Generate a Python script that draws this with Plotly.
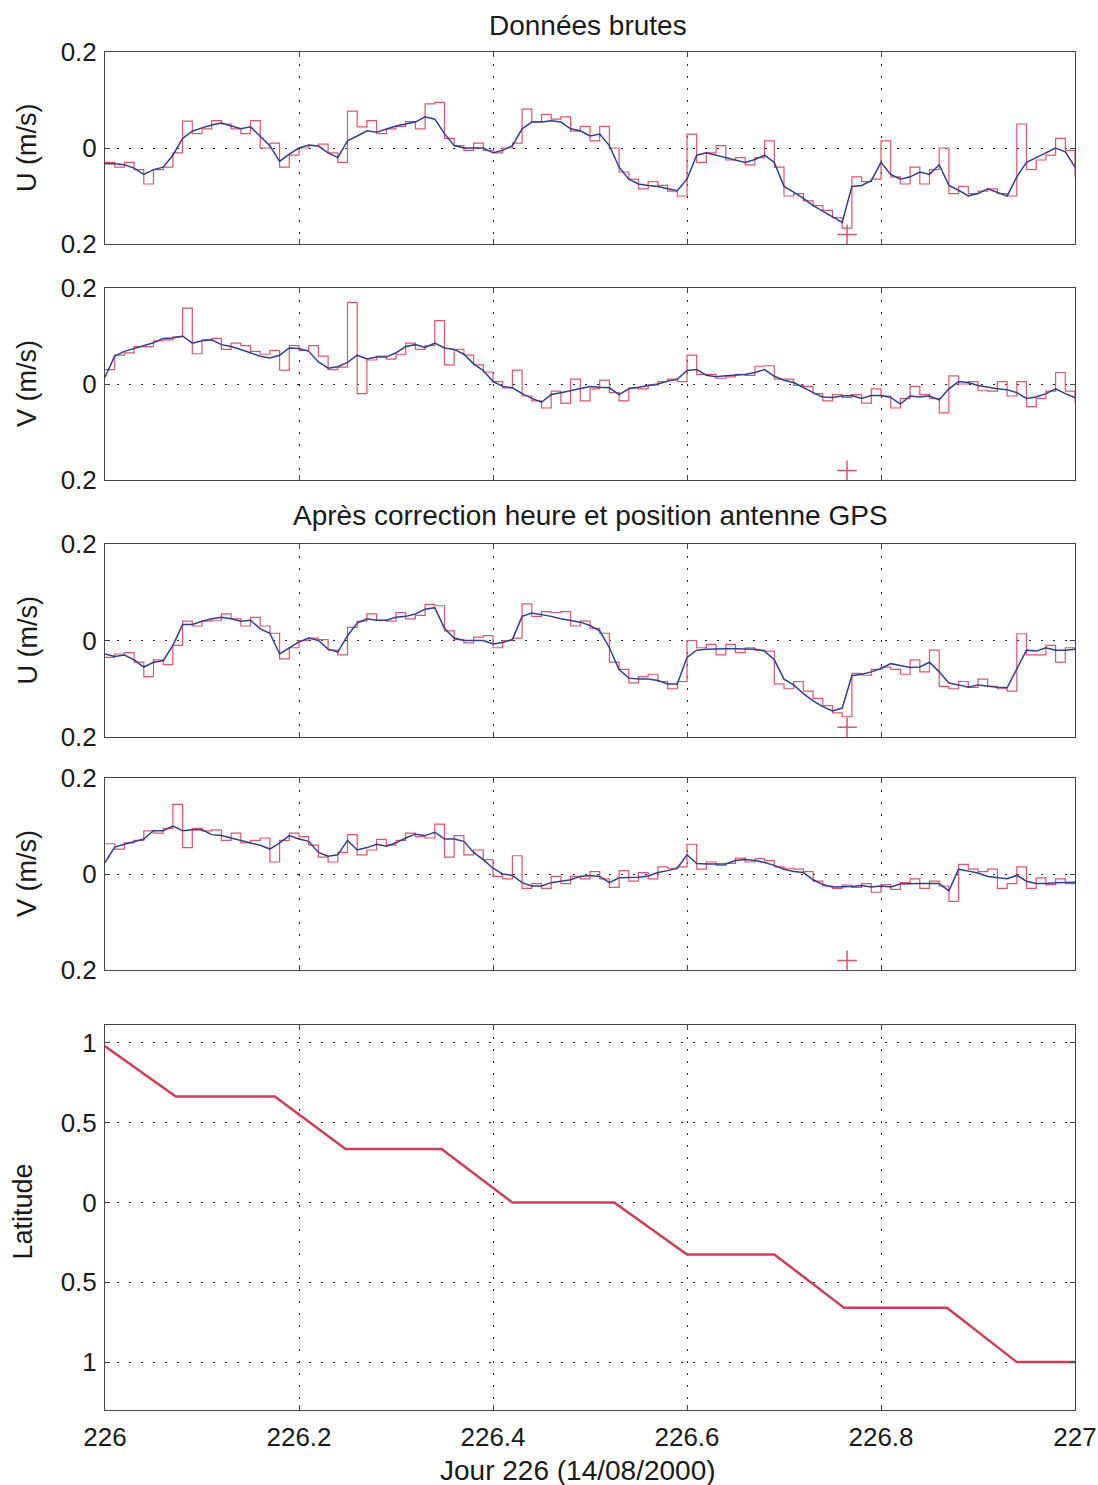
import plotly.graph_objects as go

W, H = 1098, 1485

# ---------------- data ----------------
times = [round(226 + i * 0.01, 2) for i in range(101)]

u_raw_red = [-0.030, -0.040, -0.030, -0.045, -0.075, -0.045, -0.040, -0.010, 0.056, 0.030,
             0.040, 0.057, 0.050, 0.040, 0.030, 0.057, 0.000, 0.010, -0.040, -0.015,
             0.000, 0.005, 0.008, -0.010, -0.030, 0.077, 0.044, 0.057, 0.030, 0.040,
             0.045, 0.055, 0.040, 0.092, 0.095, 0.020, 0.005, -0.005, 0.010, -0.005,
             -0.010, 0.000, 0.010, 0.081, 0.055, 0.070, 0.060, 0.065, 0.035, 0.045,
             0.015, 0.045, 0.000, -0.050, -0.065, -0.085, -0.070, -0.078, -0.090, -0.100,
             0.029, -0.030, -0.010, 0.005, -0.025, -0.020, -0.035, -0.020, 0.015, -0.040,
             -0.100, -0.095, -0.110, -0.120, -0.130, -0.145, -0.167, -0.060, -0.070, -0.065,
             0.015, -0.060, -0.075, -0.040, -0.075, -0.045, 0.000, -0.095, -0.080, -0.095,
             -0.090, -0.085, -0.095, -0.100, 0.050, -0.045, -0.025, -0.015, 0.020, -0.005,
             -0.060]
u_raw_blue = [-0.033, -0.033, -0.035, -0.042, -0.055, -0.045, -0.040, -0.015, 0.020, 0.035,
              0.042, 0.048, 0.052, 0.046, 0.040, 0.044, 0.025, 0.005, -0.028, -0.013,
              0.000, 0.006, 0.004, -0.010, -0.020, 0.015, 0.025, 0.036, 0.033, 0.040,
              0.046, 0.050, 0.054, 0.065, 0.060, 0.030, 0.005, 0.000, 0.000, 0.000,
              -0.010, -0.005, 0.005, 0.040, 0.054, 0.054, 0.057, 0.054, 0.040, 0.036,
              0.025, 0.029, 0.005, -0.040, -0.065, -0.075, -0.078, -0.080, -0.085, -0.089,
              -0.065, -0.015, -0.010, -0.015, -0.020, -0.025, -0.030, -0.024, -0.015, -0.030,
              -0.080, -0.092, -0.105, -0.120, -0.132, -0.144, -0.155, -0.080, -0.078, -0.068,
              -0.030, -0.055, -0.065, -0.060, -0.050, -0.055, -0.035, -0.078, -0.088, -0.100,
              -0.095, -0.085, -0.092, -0.100, -0.060, -0.030, -0.020, -0.010, 0.000, -0.008,
              -0.040]

v_raw_red = [0.030, 0.060, 0.065, 0.078, 0.078, 0.090, 0.092, 0.098, 0.158, 0.063,
             0.092, 0.095, 0.072, 0.085, 0.080, 0.068, 0.062, 0.070, 0.029, 0.080,
             0.070, 0.080, 0.058, 0.030, 0.035, 0.170, -0.020, 0.050, 0.058, 0.052,
             0.062, 0.085, 0.072, 0.080, 0.132, 0.040, 0.072, 0.060, 0.040, 0.025,
             0.005, -0.008, 0.029, -0.025, -0.035, -0.050, -0.015, -0.040, 0.010, -0.035,
             -0.010, 0.008, -0.018, -0.035, -0.008, -0.010, -0.002, 0.005, 0.010, 0.005,
             0.060, 0.020, 0.020, 0.012, 0.015, 0.020, 0.018, 0.037, 0.038, 0.010,
             0.010, -0.003, -0.005, -0.020, -0.035, -0.022, -0.028, -0.022, -0.040, -0.010,
             -0.025, -0.050, -0.030, -0.005, -0.022, -0.030, -0.060, 0.017, 0.000, 0.005,
             -0.013, -0.015, 0.005, -0.025, 0.005, -0.047, -0.030, -0.015, 0.024, -0.015,
             -0.040]
v_raw_blue = [0.014, 0.058, 0.068, 0.074, 0.080, 0.086, 0.095, 0.096, 0.100, 0.085,
              0.090, 0.092, 0.082, 0.078, 0.072, 0.065, 0.058, 0.054, 0.060, 0.075,
              0.074, 0.068, 0.046, 0.033, 0.036, 0.045, 0.060, 0.052, 0.056, 0.056,
              0.065, 0.078, 0.082, 0.076, 0.085, 0.075, 0.072, 0.062, 0.042, 0.028,
              0.005, -0.005, -0.008, -0.020, -0.030, -0.038, -0.022, -0.018, -0.014, -0.010,
              -0.005, -0.007, -0.008, -0.022, -0.010, -0.007, -0.004, 0.000, 0.006, 0.010,
              0.028, 0.030, 0.018, 0.015, 0.017, 0.018, 0.020, 0.024, 0.030, 0.016,
              0.008, 0.003, -0.008, -0.018, -0.027, -0.028, -0.025, -0.024, -0.030, -0.024,
              -0.024, -0.028, -0.042, -0.025, -0.027, -0.025, -0.033, -0.010, 0.005, 0.003,
              -0.003, -0.007, -0.010, -0.012, -0.018, -0.030, -0.027, -0.020, -0.010, -0.020,
              -0.028]

u_cor_red = [-0.035, -0.028, -0.025, -0.045, -0.075, -0.040, -0.050, -0.010, 0.040, 0.030,
             0.040, 0.042, 0.055, 0.045, 0.030, 0.048, 0.030, 0.015, -0.038, -0.015,
             0.000, 0.005, 0.002, -0.020, -0.030, 0.027, 0.040, 0.055, 0.042, 0.040,
             0.058, 0.045, 0.052, 0.075, 0.072, 0.020, 0.002, -0.005, 0.007, 0.010,
             -0.015, 0.000, 0.005, 0.076, 0.050, 0.060, 0.058, 0.060, 0.030, 0.040,
             0.025, 0.015, -0.045, -0.060, -0.088, -0.075, -0.070, -0.085, -0.100, -0.085,
             0.000, -0.015, -0.008, -0.030, -0.008, -0.025, -0.015, -0.020, -0.022, -0.090,
             -0.100, -0.085, -0.105, -0.120, -0.135, -0.150, -0.158, -0.068, -0.072, -0.060,
             -0.055, -0.060, -0.070, -0.040, -0.065, -0.020, -0.095, -0.100, -0.085, -0.097,
             -0.080, -0.095, -0.100, -0.105, 0.014, -0.030, -0.030, -0.010, -0.045, -0.015,
             -0.020]
u_cor_blue = [-0.028, -0.033, -0.030, -0.040, -0.055, -0.045, -0.042, -0.010, 0.033, 0.033,
              0.040, 0.045, 0.048, 0.045, 0.040, 0.042, 0.024, 0.015, -0.028, -0.015,
              -0.003, 0.005, 0.000, -0.018, -0.024, 0.010, 0.036, 0.045, 0.042, 0.042,
              0.048, 0.050, 0.055, 0.065, 0.068, 0.025, 0.005, 0.000, 0.000, 0.000,
              -0.007, -0.004, 0.002, 0.050, 0.057, 0.054, 0.050, 0.045, 0.042, 0.038,
              0.031, 0.020, -0.015, -0.060, -0.078, -0.080, -0.080, -0.083, -0.090, -0.090,
              -0.035, -0.020, -0.018, -0.017, -0.017, -0.017, -0.017, -0.018, -0.022, -0.040,
              -0.080, -0.092, -0.110, -0.125, -0.137, -0.146, -0.140, -0.073, -0.070, -0.065,
              -0.058, -0.048, -0.052, -0.056, -0.055, -0.045, -0.065, -0.088, -0.092, -0.097,
              -0.092, -0.095, -0.097, -0.098, -0.060, -0.020, -0.022, -0.015, -0.020, -0.020,
              -0.018]

v_cor_red = [0.063, 0.052, 0.065, 0.070, 0.090, 0.085, 0.095, 0.145, 0.055, 0.095,
             0.090, 0.092, 0.070, 0.085, 0.065, 0.070, 0.075, 0.025, 0.070, 0.085,
             0.078, 0.060, 0.035, 0.025, 0.045, 0.082, 0.040, 0.050, 0.072, 0.060,
             0.070, 0.085, 0.078, 0.075, 0.104, 0.035, 0.080, 0.040, 0.050, 0.030,
             -0.005, -0.010, 0.038, -0.030, -0.020, -0.030, -0.005, -0.020, -0.005, -0.010,
             0.005, -0.010, -0.028, 0.007, -0.015, 0.003, -0.010, 0.015, 0.012, 0.015,
             0.062, 0.010, 0.025, 0.018, 0.022, 0.033, 0.025, 0.032, 0.028, 0.015,
             0.012, 0.010, 0.005, -0.015, -0.025, -0.030, -0.023, -0.028, -0.020, -0.038,
             -0.022, -0.032, -0.018, -0.010, -0.030, -0.015, -0.025, -0.057, 0.020, 0.010,
             0.005, 0.010, -0.030, -0.020, 0.015, -0.030, -0.008, -0.022, -0.010, -0.020,
             -0.015]
v_cor_blue = [0.024, 0.056, 0.062, 0.067, 0.073, 0.090, 0.090, 0.100, 0.090, 0.092,
              0.092, 0.082, 0.080, 0.075, 0.070, 0.064, 0.060, 0.052, 0.065, 0.080,
              0.073, 0.068, 0.045, 0.037, 0.040, 0.070, 0.050, 0.055, 0.062, 0.058,
              0.065, 0.075, 0.083, 0.080, 0.087, 0.073, 0.073, 0.068, 0.045, 0.030,
              0.012, 0.000, -0.003, -0.018, -0.025, -0.025, -0.018, -0.015, -0.012, -0.005,
              -0.003, -0.005, -0.018, -0.008, -0.007, -0.007, -0.004, 0.003, 0.007, 0.012,
              0.040, 0.022, 0.021, 0.021, 0.021, 0.028, 0.030, 0.028, 0.024, 0.018,
              0.010, 0.005, 0.003, -0.012, -0.022, -0.027, -0.027, -0.026, -0.024, -0.027,
              -0.025, -0.027, -0.021, -0.020, -0.020, -0.020, -0.020, -0.035, 0.010, 0.006,
              0.002, -0.005, -0.008, -0.010, -0.003, -0.015, -0.020, -0.020, -0.018, -0.017,
              -0.017]

flag_t = [226.765]
flag_v = [-0.18]

lat_t = [226.0, 226.073, 226.175, 226.248, 226.347, 226.42, 226.525, 226.6,
         226.69, 226.762, 226.868, 226.94, 227.0]
lat_v = [0.98, 0.665, 0.665, 0.335, 0.335, 0.0, 0.0, -0.325,
         -0.325, -0.66, -0.66, -1.0, -1.0]

uv_tickvals = [-0.2, 0, 0.2]
uv_ticktext = ["0.2", "0", "0.2"]
lat_tickvals = [-1, -0.5, 0, 0.5, 1]
lat_ticktext = ["1", "0.5", "0", "0.5", "1"]
day_tickvals = [226, 226.2, 226.4, 226.6, 226.8, 227]
day_ticktext = ["226", "226.2", "226.4", "226.6", "226.8", "227"]

panel_labels = ["U (m/s)", "V (m/s)", "U (m/s)", "V (m/s)", "Latitude"]
series = [(u_raw_red, u_raw_blue), (v_raw_red, v_raw_blue),
          (u_cor_red, u_cor_blue), (v_cor_red, v_cor_blue)]

# ---------------- style ----------------
RED = "#e2536f"
BLUE = "#2f3f95"
LATRED = "#d33a5a"
FONT = "Liberation Sans, Arial, sans-serif"
TXT = "#1a1a1a"
boxes = [(52, 244), (288, 480), (544, 737), (778, 970), (1025, 1410)]
LEFT, RIGHT = 105, 1075


def ydom(top, bottom):
    return [1 - bottom / H, 1 - top / H]


fig = go.Figure()

for k, (red, blue) in enumerate(series, start=1):
    xa, ya = ("x" if k == 1 else f"x{k}"), ("y" if k == 1 else f"y{k}")
    fig.add_trace(go.Scatter(x=times, y=red, mode="lines", line=dict(color=RED, width=1.2, shape="hv"),
                             xaxis=xa, yaxis=ya, showlegend=False, hoverinfo="skip"))
    fig.add_trace(go.Scatter(x=times, y=blue, mode="lines", line=dict(color=BLUE, width=1.5),
                             xaxis=xa, yaxis=ya, showlegend=False, hoverinfo="skip"))
    fig.add_trace(go.Scatter(x=flag_t, y=flag_v, mode="markers",
                             marker=dict(symbol="cross-thin", size=14, line=dict(color=RED, width=1.5)),
                             xaxis=xa, yaxis=ya, showlegend=False, hoverinfo="skip"))

fig.add_trace(go.Scatter(x=lat_t, y=lat_v, mode="lines", line=dict(color=LATRED, width=2.5),
                         xaxis="x5", yaxis="y5", showlegend=False, hoverinfo="skip"))

common = dict(showline=True, linecolor="#444444", linewidth=1, mirror="ticks",
              ticks="inside", ticklen=5, tickcolor="#444444", automargin=False,
              showgrid=True, gridcolor="#222222", griddash="2px,10px", gridwidth=1.3,
              zeroline=False, tickfont=dict(family=FONT, size=26, color=TXT))

layout = dict(width=W, height=H, margin=dict(l=0, r=0, t=0, b=0, autoexpand=False),
              template="none",
              paper_bgcolor="white", plot_bgcolor="white", font=dict(family=FONT, color=TXT))

for k in range(1, 6):
    top, bottom = boxes[k - 1]
    sx = "" if k == 1 else str(k)
    xa = dict(common, domain=[LEFT / W, RIGHT / W], anchor=f"y{sx}", range=[226, 227],
              tickvals=day_tickvals, ticktext=day_ticktext, showticklabels=(k == 5),
              ticklabelstandoff=4)
    if k == 5:
        ya = dict(common, domain=ydom(top, bottom), anchor=f"x{sx}", range=[-1.3, 1.1125],
                  tickvals=lat_tickvals, ticktext=lat_ticktext, ticklabelstandoff=2)
    else:
        ya = dict(common, domain=ydom(top, bottom), anchor=f"x{sx}", range=[-0.2, 0.2],
                  tickvals=uv_tickvals, ticktext=uv_ticktext, ticklabelstandoff=2)
    layout[f"xaxis{sx}"] = xa
    layout[f"yaxis{sx}"] = ya

ann = []
def add_text(text, xp, yp, size=28, angle=0):
    ann.append(dict(text=text, x=xp / W, y=1 - yp / H, xref="paper", yref="paper",
                    showarrow=False, textangle=angle, xanchor="center", yanchor="middle",
                    font=dict(family=FONT, size=size, color=TXT)))

add_text("Données brutes", 588, 25)
add_text("Après correction heure et position antenne GPS", 590, 515)
add_text("Jour 226 (14/08/2000)", 578, 1470)
label_x = [27, 27, 27, 27, 22]
label_dy = [0, 0, 0, 0, -6]
for k, lab in enumerate(panel_labels):
    top, bottom = boxes[k]
    add_text(lab, label_x[k], (top + bottom) / 2 + label_dy[k], size=27, angle=-90)

layout["annotations"] = ann
fig.update_layout(**layout)
fig.write_html("out.html")
